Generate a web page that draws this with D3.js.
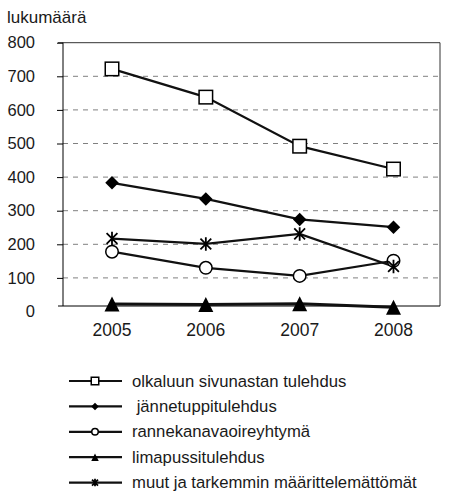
<!DOCTYPE html>
<html>
<head>
<meta charset="utf-8">
<script src="https://cdn.jsdelivr.net/npm/d3@7"></script>
<style>
  body { margin: 0; background: #fff; }
  svg { display: block; font-family: "Liberation Sans", Arial, sans-serif; }
  text { white-space: pre; }
</style>
</head>
<body>
<svg width="453" height="493"></svg>
<script>
// chart data
var years = ["2005", "2006", "2007", "2008"];
var yTicks = [0, 100, 200, 300, 400, 500, 600, 700, 800];
var seriesNames = [
  "olkaluun sivunastan tulehdus",
  " jännetuppitulehdus",
  "rannekanavaoireyhtymä",
  "limapussitulehdus",
  "muut ja tarkemmin määrittelemättömät"
];
var olkaluu = [722, 638, 492, 424];
var jannetuppi = [383, 335, 274, 251];
var ranne = [178, 130, 106, 151];
var limapussi = [22, 21, 23, 13];
var muut = [217, 201, 231, 134];
var markers = ["square", "diamond", "circle", "triangle", "asterisk"];

var series = [olkaluu, jannetuppi, ranne, limapussi, muut];

var svg = d3.select("svg");

// plot frame
var plotLeft = 63, plotRight = 440, plotTop = 42.7, plotBottom = 306;

var y = d3.scaleLinear().domain([0, 800]).range([311.5, 42.7]);
var x = d3.scalePoint().domain(years).range([112, 393.5]);

// marker shape drawing
function drawMarker(g, type, s) {
  var h = s / 2;
  if (type == "square") {
    g.append("rect").attr("x", -h).attr("y", -h).attr("width", s).attr("height", s)
      .attr("fill", "#fff").attr("stroke", "#000").attr("stroke-width", 1.5);
  } else if (type == "diamond") {
    g.append("path").attr("d", "M0," + (-h) + "L" + h + ",0L0," + h + "L" + (-h) + ",0Z")
      .attr("fill", "#000");
  } else if (type == "circle") {
    g.append("circle").attr("r", h - 0.5)
      .attr("fill", "#fff").attr("stroke", "#000").attr("stroke-width", 1.5);
  } else if (type == "triangle") {
    g.append("path").attr("d", "M0," + (-h) + "L" + h + "," + h + "L" + (-h) + "," + h + "Z")
      .attr("fill", "#000");
  } else if (type == "asterisk") {
    var a = h * 0.8;
    g.append("path")
      .attr("d", "M0," + (-h) + "V" + h + "M" + (-a) + "," + (-a) + "L" + a + "," + a + "M" + a + "," + (-a) + "L" + (-a) + "," + a)
      .attr("fill", "none").attr("stroke", "#000").attr("stroke-width", 1.8);
  }
}

// dashed gridlines
svg.append("g").selectAll("line")
  .data(yTicks.filter(d => d > 0 && d < 800))
  .enter().append("line")
  .attr("x1", plotLeft).attr("x2", plotRight)
  .attr("y1", d => y(d)).attr("y2", d => y(d))
  .attr("stroke", "#808080")
  .attr("stroke-dasharray", "5,5");

// top and right border
svg.append("path")
  .attr("d", "M" + (plotLeft - 5) + "," + plotTop + "H" + plotRight + "V" + plotBottom)
  .attr("fill", "none").attr("stroke", "#333").attr("stroke-width", 1);

// y axis
var yAxis = svg.append("g")
  .attr("transform", "translate(" + plotLeft + ",0)")
  .call(d3.axisLeft(y).tickValues(yTicks).tickSize(6).tickPadding(22));
yAxis.select(".domain").remove();
yAxis.selectAll(".tick line").attr("stroke", "#000").filter(d => d == 0).remove();
yAxis.selectAll(".tick text")
  .attr("fill", "#1a1a1a")
  .style("font-size", "16.5px")
  .style("font-family", "Liberation Sans, Arial, sans-serif");

svg.append("line")
  .attr("x1", plotLeft).attr("x2", plotLeft).attr("y1", plotTop).attr("y2", plotBottom)
  .attr("stroke", "#000");
svg.append("line")
  .attr("x1", plotLeft - 5).attr("x2", plotRight).attr("y1", plotBottom).attr("y2", plotBottom)
  .attr("stroke", "#000");

// x labels
svg.append("g").selectAll("text")
  .data(years)
  .enter().append("text")
  .attr("x", d => x(d))
  .attr("y", 336)
  .attr("text-anchor", "middle")
  .attr("fill", "#1a1a1a")
  .style("font-size", "17.5px")
  .text(d => d);

// y title
svg.append("text")
  .attr("x", 7).attr("y", 23)
  .attr("fill", "#1a1a1a")
  .style("font-size", "17px")
  .text("lukumäärä");

// series lines and markers
var line = d3.line()
  .x((d, i) => x(years[i]))
  .y(d => y(d));

series.forEach(function (vals, k) {
  svg.append("path")
    .datum(vals)
    .attr("d", line)
    .attr("fill", "none")
    .attr("stroke", "#111")
    .attr("stroke-width", k == 3 ? 3 : 2.2);
});

series.forEach(function (vals, k) {
  vals.forEach(function (v, i) {
    var g = svg.append("g").attr("transform", "translate(" + x(years[i]) + "," + y(v) + ")");
    drawMarker(g, markers[k], k == 3 ? 15 : 13.5);
  });
});

// legend
var legend = svg.append("g").selectAll("g")
  .data(seriesNames)
  .enter().append("g")
  .attr("transform", (d, i) => "translate(0," + (381 + i * 25.4) + ")");

legend.append("line")
  .attr("x1", 69).attr("x2", 122)
  .attr("stroke", "#111").attr("stroke-width", 2.2);

legend.each(function (d, i) {
  var g = d3.select(this).append("g").attr("transform", "translate(95,0)");
  drawMarker(g, markers[i], 7.5);
});

legend.append("text")
  .attr("x", 132).attr("y", 5.5)
  .attr("fill", "#1a1a1a")
  .style("font-size", "16.7px")
  .text(d => d);
</script>
</body>
</html>
